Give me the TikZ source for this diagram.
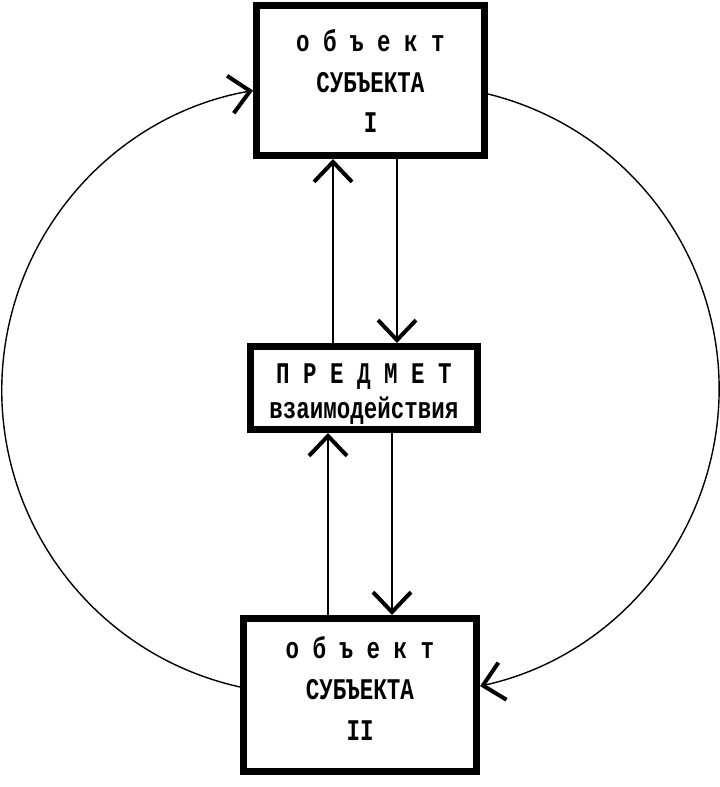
\documentclass[tikz,border=0pt]{standalone}
\usepackage{fontspec}
\newfontfamily\tw[FakeStretch=0.75]{Liberation Mono}
\usetikzlibrary{arrows.meta}
\begin{document}
\begin{tikzpicture}[x=1pt,y=1pt,
  boxnode/.style={draw, line width=7pt, inner sep=0pt},
  txt/.style={inner sep=0pt, align=center},
  barb/.style={-{Straight Barb[length=20pt,width=38pt,line width=4pt]}},
  vline/.style={barb, line width=1.8pt},
  cline/.style={barb, line width=1.4pt}]
\useasboundingbox (0,0) rectangle (720,787);
% boxes
\node[boxnode, minimum width=228pt, minimum height=150pt] (b1) at (370.5,706.5) {};
\node[boxnode, minimum width=227pt, minimum height=83pt] (m) at (364,399) {};
\node[boxnode, minimum width=233pt, minimum height=153pt] (b2) at (360,92) {};
% texts
\node[txt, font=\tw\bfseries\fontsize{30}{40.5}\selectfont] (t1) at ([yshift=-1pt]b1.center)
      {о б ъ е к т\\СУБЪЕКТА\\I};
\node[txt, font=\tw\bfseries\fontsize{30}{35}\selectfont] (tm) at ([yshift=-6pt]m.center)
      {П Р Е Д М Е Т\\взаимодействия};
\node[txt, font=\tw\bfseries\fontsize{30}{41}\selectfont] (t2) at ([yshift=7pt]b2.center)
      {о б ъ е к т\\СУБЪЕКТА\\II};
% vertical connectors
\draw[vline] ([xshift=-31pt]m.north) -- ([xshift=-37.5pt]b1.south);
\draw[vline] ([xshift=26.5pt]b1.south) -- ([xshift=33pt]m.north);
\draw[vline] ([xshift=-32pt]b2.north) -- ([xshift=-36pt]m.south);
\draw[vline] ([xshift=28pt]m.south) -- ([xshift=32pt]b2.north);
% circular connectors
\draw[cline] ([yshift=8pt]b2.west) arc[start angle=257.47, end angle=100.04, radius=304.2];
\draw[cline] ([yshift=-13.5pt]b1.east) arc[start angle=76.12, end angle=-77.66, radius=304];
\end{tikzpicture}
\end{document}
